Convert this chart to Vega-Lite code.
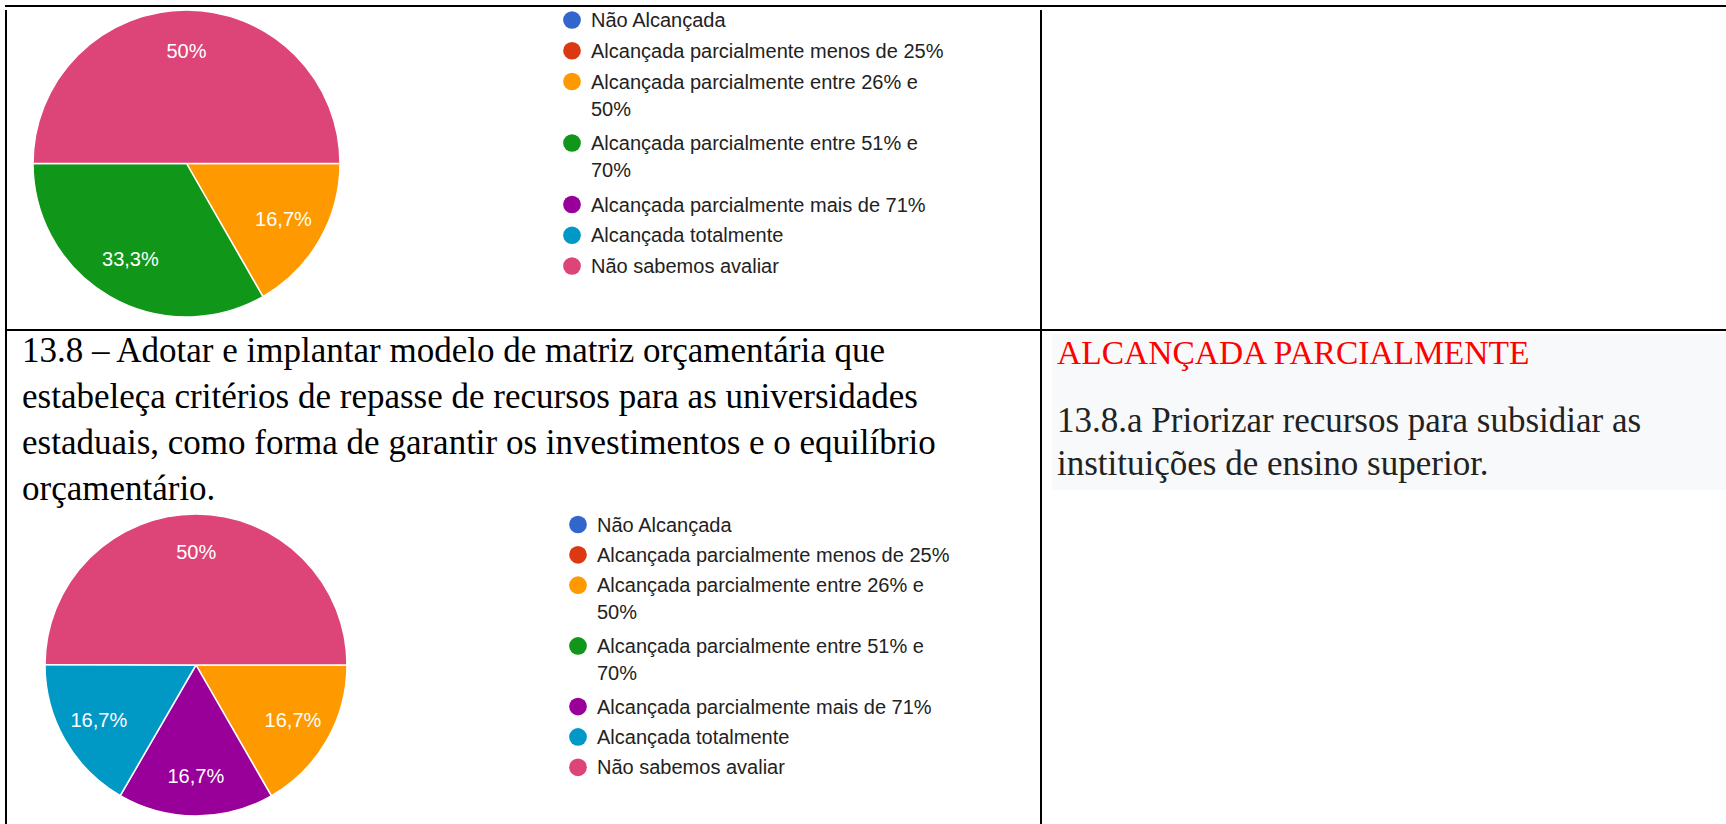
{
  "$schema": "https://vega.github.io/schema/vega-lite/v6.json",
  "padding": {"left": 5, "top": 5, "right": 0, "bottom": 0},
  "background": "white",
  "config": {"view": {"stroke": null}, "font": "Liberation Sans"},
  "datasets": {
    "legend": [
      {"idx": 1, "line": 0, "cat": "Não Alcançada", "label": "Não Alcançada"},
      {"idx": 2, "line": 1, "cat": "Alcançada parcialmente menos de 25%", "label": "Alcançada parcialmente menos de 25%"},
      {"idx": 3, "line": 2, "cat": "Alcançada parcialmente entre 26% e 50%", "label": "Alcançada parcialmente entre 26% e\n50%"},
      {"idx": 4, "line": 4, "cat": "Alcançada parcialmente entre 51% e 70%", "label": "Alcançada parcialmente entre 51% e\n70%"},
      {"idx": 5, "line": 6, "cat": "Alcançada parcialmente mais de 71%", "label": "Alcançada parcialmente mais de 71%"},
      {"idx": 6, "line": 7, "cat": "Alcançada totalmente", "label": "Alcançada totalmente"},
      {"idx": 7, "line": 8, "cat": "Não sabemos avaliar", "label": "Não sabemos avaliar"}
    ],
    "pie1": [
      {"idx": 3, "cat": "Alcançada parcialmente entre 26% e 50%", "pct": 16.7, "label": "16,7%"},
      {"idx": 4, "cat": "Alcançada parcialmente entre 51% e 70%", "pct": 33.3, "label": "33,3%"},
      {"idx": 7, "cat": "Não sabemos avaliar", "pct": 50, "label": "50%"}
    ],
    "pie2": [
      {"idx": 3, "cat": "Alcançada parcialmente entre 26% e 50%", "pct": 16.7, "label": "16,7%"},
      {"idx": 5, "cat": "Alcançada parcialmente mais de 71%", "pct": 16.7, "label": "16,7%"},
      {"idx": 6, "cat": "Alcançada totalmente", "pct": 16.7, "label": "16,7%"},
      {"idx": 7, "cat": "Não sabemos avaliar", "pct": 50, "label": "50%"}
    ],
    "bodyLeft": [
      {"line": 0, "text": "13.8 – Adotar e implantar modelo de matriz orçamentária que"},
      {"line": 1, "text": "estabeleça critérios de repasse de recursos para as universidades"},
      {"line": 2, "text": "estaduais, como forma de garantir os investimentos e o equilíbrio"},
      {"line": 3, "text": "orçamentário."}
    ],
    "bodyRight": [
      {"line": 0, "text": "13.8.a Priorizar recursos para subsidiar as"},
      {"line": 1, "text": "instituições de ensino superior."}
    ],
    "heading": [{"text": "ALCANÇADA PARCIALMENTE"}],
    "none": []
  },
  "spacing": 0,
  "vconcat": [
    {"width": 1721, "height": 2, "view": {"fill": "black", "stroke": null}, "data": {"name": "none"}, "mark": "point", "encoding": {}},
    {
      "spacing": 0,
      "hconcat": [
        {"width": 2, "height": 319, "view": {"fill": "black", "stroke": null}, "data": {"name": "none"}, "mark": "point", "encoding": {}},
        {
          "spacing": 206,
          "bounds": "flush",
          "hconcat": [
            {
              "width": 359, "height": 307,
              "data": {"name": "pie1"},
              "encoding": {
                "theta": {"field": "pct", "type": "quantitative", "stack": true, "scale": {"range": [1.5708, 7.854]}},
                "order": {"field": "idx", "type": "quantitative", "sort": "ascending"}
              },
              "layer": [
                {"mark": {"type": "arc", "stroke": "white", "strokeWidth": 1.5},
                 "encoding": {"color": {"field": "cat", "type": "nominal", "legend": null,
                   "scale": {"domain": ["Não Alcançada", "Alcançada parcialmente menos de 25%", "Alcançada parcialmente entre 26% e 50%", "Alcançada parcialmente entre 51% e 70%", "Alcançada parcialmente mais de 71%", "Alcançada totalmente", "Não sabemos avaliar"],
                             "range": ["#3366cc", "#dc3912", "#ff9900", "#109618", "#990099", "#0099c6", "#dd4477"]}}}},
                {"mark": {"type": "text", "radius": 112, "fill": "white", "fontSize": 20, "font": "Liberation Sans"},
                 "encoding": {"text": {"field": "label"}}}
              ]
            },
            {
              "width": 468, "height": 319,
              "data": {"name": "legend"},
              "encoding": {"y": {"field": "line", "type": "quantitative", "axis": null, "scale": {"domain": [0, 8], "range": [10, 256]}}},
              "layer": [
                {"mark": {"type": "point", "filled": true, "size": 314, "opacity": 1},
                 "encoding": {"x": {"value": 0}, "color": {"field": "cat", "type": "nominal", "legend": null,
                   "scale": {"domain": ["Não Alcançada", "Alcançada parcialmente menos de 25%", "Alcançada parcialmente entre 26% e 50%", "Alcançada parcialmente entre 51% e 70%", "Alcançada parcialmente mais de 71%", "Alcançada totalmente", "Não sabemos avaliar"],
                             "range": ["#3366cc", "#dc3912", "#ff9900", "#109618", "#990099", "#0099c6", "#dd4477"]}}}},
                {"mark": {"type": "text", "align": "left", "baseline": "alphabetic", "dx": 19, "dy": 7, "fontSize": 20, "lineBreak": "\n", "lineHeight": 27, "color": "#222222", "font": "Liberation Sans"},
                 "encoding": {"x": {"value": 0}, "text": {"field": "label"}}}
              ]
            }
          ]
        },
        {"width": 2, "height": 319, "view": {"fill": "black", "stroke": null}, "data": {"name": "none"}, "mark": "point", "encoding": {}},
        {"width": 684, "height": 319, "data": {"name": "none"}, "mark": "point", "encoding": {}}
      ]
    },
    {"width": 1721, "height": 2, "view": {"fill": "black", "stroke": null}, "data": {"name": "none"}, "mark": "point", "encoding": {}},
    {
      "spacing": 0,
      "hconcat": [
        {"width": 2, "height": 496, "view": {"fill": "black", "stroke": null}, "data": {"name": "none"}, "mark": "point", "encoding": {}},
        {
          "spacing": 0,
          "vconcat": [
            {
              "width": 1033, "height": 180,
              "data": {"name": "bodyLeft"},
              "mark": {"type": "text", "align": "left", "baseline": "alphabetic", "dx": 15, "font": "Liberation Serif", "fontSize": 35, "color": "#000000"},
              "encoding": {
                "x": {"value": 0},
                "y": {"field": "line", "type": "quantitative", "axis": null, "scale": {"domain": [0, 3], "range": [31, 169]}},
                "text": {"field": "text"}
              }
            },
            {
              "spacing": 193,
              "bounds": "flush",
              "hconcat": [
                {
                  "width": 378, "height": 302,
                  "data": {"name": "pie2"},
                  "encoding": {
                    "theta": {"field": "pct", "type": "quantitative", "stack": true, "scale": {"range": [1.5708, 7.854]}},
                    "order": {"field": "idx", "type": "quantitative", "sort": "ascending"}
                  },
                  "layer": [
                    {"mark": {"type": "arc", "stroke": "white", "strokeWidth": 1.5},
                     "encoding": {"color": {"field": "cat", "type": "nominal", "legend": null,
                       "scale": {"domain": ["Não Alcançada", "Alcançada parcialmente menos de 25%", "Alcançada parcialmente entre 26% e 50%", "Alcançada parcialmente entre 51% e 70%", "Alcançada parcialmente mais de 71%", "Alcançada totalmente", "Não sabemos avaliar"],
                                 "range": ["#3366cc", "#dc3912", "#ff9900", "#109618", "#990099", "#0099c6", "#dd4477"]}}}},
                    {"mark": {"type": "text", "radius": 112, "fill": "white", "fontSize": 20, "font": "Liberation Sans"},
                     "encoding": {"text": {"field": "label"}}}
                  ]
                },
                {
                  "width": 462, "height": 302,
                  "data": {"name": "legend"},
                  "encoding": {"y": {"field": "line", "type": "quantitative", "axis": null, "scale": {"domain": [0, 8], "range": [10.5, 253.3]}}},
                  "layer": [
                    {"mark": {"type": "point", "filled": true, "size": 314, "opacity": 1},
                     "encoding": {"x": {"value": 0}, "color": {"field": "cat", "type": "nominal", "legend": null,
                       "scale": {"domain": ["Não Alcançada", "Alcançada parcialmente menos de 25%", "Alcançada parcialmente entre 26% e 50%", "Alcançada parcialmente entre 51% e 70%", "Alcançada parcialmente mais de 71%", "Alcançada totalmente", "Não sabemos avaliar"],
                                 "range": ["#3366cc", "#dc3912", "#ff9900", "#109618", "#990099", "#0099c6", "#dd4477"]}}}},
                    {"mark": {"type": "text", "align": "left", "baseline": "alphabetic", "dx": 19, "dy": 7, "fontSize": 20, "lineBreak": "\n", "lineHeight": 27, "color": "#222222", "font": "Liberation Sans"},
                     "encoding": {"x": {"value": 0}, "text": {"field": "label"}}}
                  ]
                }
              ]
            }
          ]
        },
        {"width": 2, "height": 496, "view": {"fill": "black", "stroke": null}, "data": {"name": "none"}, "mark": "point", "encoding": {}},
        {
          "spacing": 0,
          "hconcat": [
            {"width": 10, "height": 1, "data": {"name": "none"}, "mark": "point", "encoding": {}},
            {
              "spacing": 0,
              "bounds": "flush",
              "vconcat": [
                {"width": 674, "height": 3, "data": {"name": "none"}, "mark": "point", "encoding": {}},
                {
                  "width": 674, "height": 40,
                  "view": {"fill": "#f8f9fa", "stroke": null},
                  "data": {"name": "heading"},
                  "mark": {"type": "text", "align": "left", "baseline": "middle", "dx": 5, "font": "Liberation Serif", "fontSize": 33.5, "color": "#ff0000"},
                  "encoding": {"x": {"value": 0}, "text": {"field": "text"}}
                },
                {
                  "width": 674, "height": 116,
                  "view": {"fill": "#f8f9fa", "stroke": null},
                  "data": {"name": "bodyRight"},
                  "mark": {"type": "text", "align": "left", "baseline": "alphabetic", "dx": 5, "font": "Liberation Serif", "fontSize": 35, "color": "#222222"},
                  "encoding": {
                    "x": {"value": 0},
                    "y": {"field": "line", "type": "quantitative", "axis": null, "scale": {"domain": [0, 1], "range": [58, 101]}},
                    "text": {"field": "text"}
                  }
                }
              ]
            }
          ]
        }
      ]
    }
  ]
}
